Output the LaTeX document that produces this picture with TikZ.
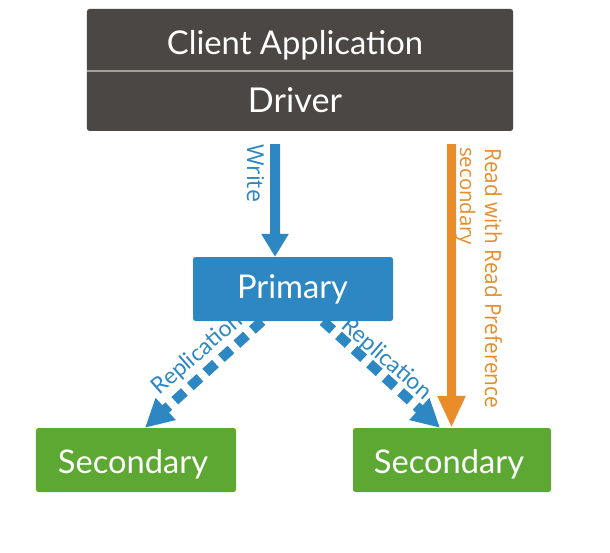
\documentclass[tikz,border=0pt]{standalone}
\usepackage{fontspec}
\setmainfont{Lato}
\newfontfamily\labelfont{Open Sans}
\usetikzlibrary{arrows.meta}
\definecolor{boxgray}{HTML}{4A4744}
\definecolor{divgray}{HTML}{A39F9B}
\definecolor{mblue}{HTML}{2C87C3}
\definecolor{mgreen}{HTML}{5CA833}
\definecolor{morange}{HTML}{E98C2A}
\begin{document}
\begin{tikzpicture}[x=1bp,y=-1bp,
  boxnode/.style={rectangle, rounded corners=2.5bp, inner sep=0, draw=none},
  boxtext/.style={text=white, inner sep=0, anchor=base},
  sidelabel/.style={inner sep=0, anchor=base west, rotate=-90, font=\labelfont},
  replabel/.style={inner sep=0, text=mblue, anchor=center},
  solidarrow/.style={line width=#1},
  reparrow/.style={line width=10bp, mblue, dash pattern=on 13bp off 8bp, -{Triangle[width=28bp,length=28bp]}}
]
\useasboundingbox (0,0) rectangle (610,553);
\fill[white] (0,0) rectangle (610,553);

% boxes
\node[boxnode, fill=boxgray, minimum width=426bp, minimum height=122bp] (client) at (300,70) {};
\coordinate (divL) at (87,71);
\coordinate (divR) at (513,71);
\draw[divgray, line width=2bp] (divL) -- (divR);
\node[boxtext] (clienttxt) at (295,55) {\resizebox{256bp}{!}{Client Application}};
\node[boxtext] (drivertxt) at (295,113) {\resizebox{94bp}{!}{Driver}};

\node[boxnode, fill=mblue, minimum width=200bp, minimum height=64bp] (primary) at (293,289) {};
\node[boxtext] (primarytxt) at (292.5,298) {\resizebox{111bp}{!}{Primary}};

\node[boxnode, fill=mgreen, minimum width=200bp, minimum height=64bp] (sec1) at (136,460) {};
\node[boxtext] (sec1txt) at (133,473) {\resizebox{150bp}{!}{Secondary}};
\node[boxnode, fill=mgreen, minimum width=198bp, minimum height=64bp] (sec2) at (452,460) {};
\node[boxtext] (sec2txt) at (449,473) {\resizebox{150bp}{!}{Secondary}};

% write arrow
\draw[solidarrow=10bp, mblue, -{Triangle[width=26bp,length=23bp]}]
  ([xshift=-25bp,yshift=-13bp]client.south) -- ([xshift=-18bp]primary.north);
\node[sidelabel, text=mblue] (writelbl) at (247,144) {\resizebox{58bp}{!}{Write}};

% read arrow
\draw[solidarrow=9bp, morange, -{Triangle[width=26bp,length=32bp]}]
  ([xshift=151.5bp,yshift=-13bp]client.south) -- ([xshift=-0.5bp]sec2.north);
\node[sidelabel, text=morange] (readlbl) at (485,148) {\resizebox{260bp}{17bp}{Read with Read Preference}};
\node[sidelabel, text=morange] (seclbl) at (460,147) {\resizebox{98bp}{!}{secondary}};

% replication arrows
\draw[reparrow] ([xshift=-31bp]primary.south) -- ([xshift=9bp]sec1.north);
\draw[reparrow] ([xshift=30bp]primary.south) -- ([xshift=-12bp]sec2.north);
\node[replabel, rotate=41] (repL) at (197.5,354.5) {\resizebox{111bp}{!}{Replication}};
\node[replabel, rotate=-41] (repR) at (386.5,359.5) {\resizebox{111bp}{!}{Replication}};
\end{tikzpicture}
\end{document}
